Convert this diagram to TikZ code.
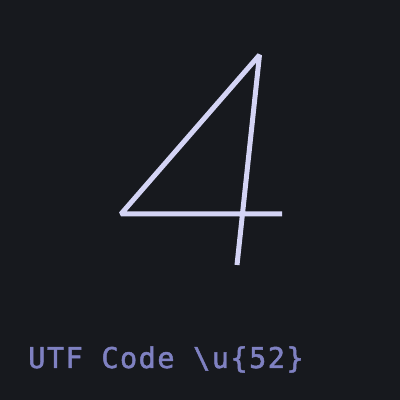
\documentclass[tikz,border=0pt]{standalone}
\usepackage{fontspec}
\newfontfamily\codefont[LetterSpace=5,FakeBold=1.6]{DejaVu Sans Mono}
\definecolor{bgdark}{HTML}{17191E}
\definecolor{glyphline}{HTML}{D4D4F5}
\definecolor{codeblue}{HTML}{7F81C2}
\tikzset{
	glyph/.style={draw=glyphline, line width=5pt, line join=bevel},
	caption/.style={text=codeblue, inner sep=0pt, anchor=base west, font=\codefont\fontsize{28.6}{32}\selectfont}
}

\begin{document}
\begin{tikzpicture}[x=1pt,y=1pt]

	\fill[bgdark] (0,0) rectangle (400,400);
	\useasboundingbox (0,0) rectangle (400,400);

	% the digit
	\draw[glyph] (237,135) -- (259.5,345) -- (121,186) -- (282,186);

	\node[caption] (code) at (28,32) {UTF Code \textbackslash u\{52\}};

\end{tikzpicture}
\end{document}
